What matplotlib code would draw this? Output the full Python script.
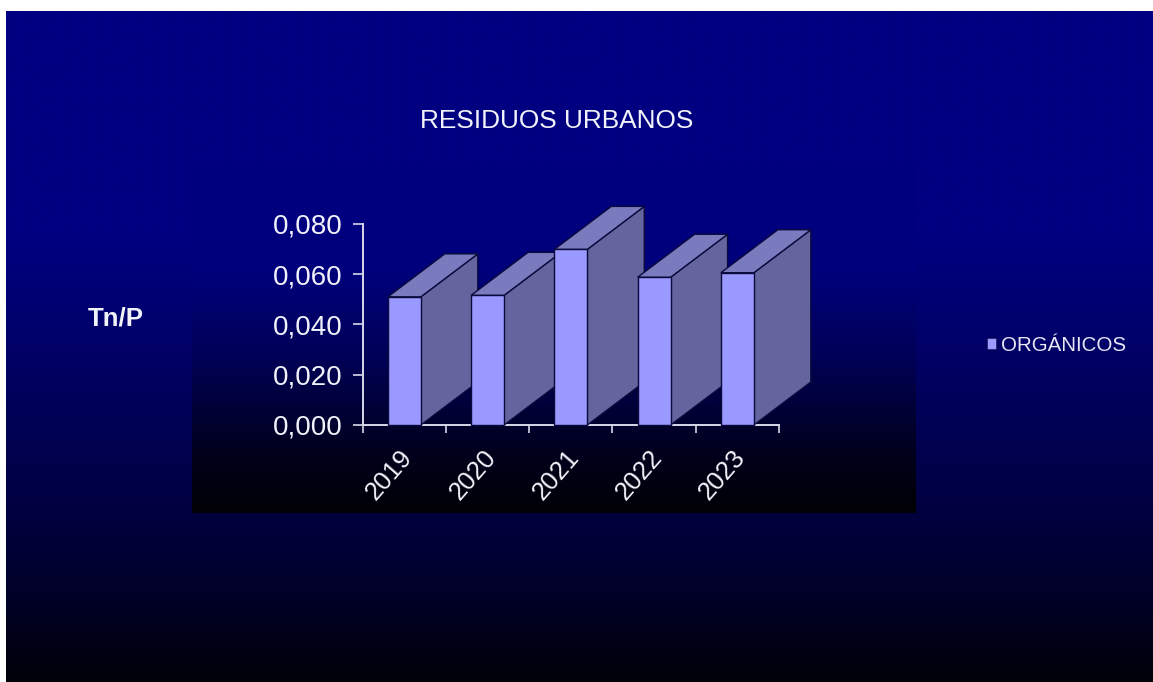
import matplotlib
matplotlib.use("Agg")
import matplotlib.pyplot as plt
import numpy as np
from matplotlib.patches import Polygon, Patch
from matplotlib.transforms import ScaledTranslation

plt.rcParams['font.family'] = ['Liberation Sans', 'DejaVu Sans']

years = ["2019", "2020", "2021", "2022", "2023"]
organicos = [0.051, 0.0516, 0.0699, 0.0588, 0.0606]
y_ticks = [0.0, 0.02, 0.04, 0.06, 0.08]
y_labels = ["0,000", "0,020", "0,040", "0,060", "0,080"]

W, H = 1153, 682
FRONT = "#9999ff"
SIDE = "#64649f"
TOP = "#7a7abf"
EDGE = "#0a0a3c"
TXT = "#f2f2fa"

fig = plt.figure(figsize=(W / 100, H / 100), dpi=100, facecolor="white")


def px_axes(x0, y0, x1, y1):
    # rectangle given in picture pixels, y going down
    return fig.add_axes([x0 / W, 1 - y1 / H, (x1 - x0) / W, (y1 - y0) / H])


def gradient(ax, stops_pos, stops_blue):
    t = np.linspace(0, 1, 400)
    blue = np.interp(t, stops_pos, stops_blue) / 255
    img = np.zeros((400, 1, 3))
    img[:, 0, 2] = blue
    ax.imshow(img, aspect="auto", interpolation="bilinear")
    ax.axis("off")


bg = px_axes(6, 11, W, H)
gradient(bg, [0, 0.34, 0.52, 0.76, 0.88, 1], [128, 128, 100, 62, 38, 8])

panel = px_axes(192, 165, 916, 513)
gradient(panel, [0, 0.30, 0.56, 0.82, 1], [128, 125, 85, 30, 4])

ax = px_axes(362.7, 224, 779, 425)
ax.patch.set_alpha(0)
ax.set_xlim(0, 5)
ax.set_ylim(0, 0.08)

# depth of the fake 3d bars, in data units
bar_w = 0.396
dx = 57 / 83.3
dy = 43 / 201 * 0.08

for i, v in enumerate(organicos):
    left = i + 0.5 - bar_w / 2
    right = left + bar_w
    ax.add_patch(Polygon([(right, 0), (right + dx, dy), (right + dx, v + dy), (right, v)],
                         fc=SIDE, ec=EDGE, lw=1, clip_on=False, zorder=3 + i))
    ax.add_patch(Polygon([(left, v), (left + dx, v + dy), (right + dx, v + dy), (right, v)],
                         fc=TOP, ec=EDGE, lw=1, clip_on=False, zorder=3 + i))
    ax.bar(i + 0.5, v, width=bar_w, color=FRONT, edgecolor=EDGE, linewidth=1, clip_on=False, zorder=3 + i)

for s in ["top", "right"]:
    ax.spines[s].set_visible(False)
for s in ["left", "bottom"]:
    ax.spines[s].set_color("#d8d8ea")
    ax.spines[s].set_linewidth(1.4)

ax.set_yticks(y_ticks)
ax.set_yticklabels(y_labels, fontsize=20, color=TXT)
ax.tick_params(axis="y", length=7, width=1.2, color="#d8d8ea", pad=7.5)
ax.set_xticks(range(6))
ax.set_xticklabels([])
ax.tick_params(axis="x", which="major", length=6, width=1.2, color="#d8d8ea")
ax.set_xticks(np.arange(5) + 0.5, minor=True)
ax.set_xticklabels(years, minor=True, fontsize=18.5, color=TXT, rotation=49, ha="right",
                   va="top", rotation_mode="anchor")
ax.tick_params(axis="x", which="minor", length=0, pad=13)

# nudge the year labels left, they do not sit under the tick centres
shift = ScaledTranslation(-5 / 100, -2 / 100, fig.dpi_scale_trans)
for lab in ax.get_xticklabels(minor=True):
    lab.set_transform(lab.get_transform() + shift)

fig.text(557 / W, 1 - 121 / H, "RESIDUOS URBANOS", fontsize=18.9, color=TXT, ha="center", va="center")
fig.text(116 / W, 1 - 318 / H, "Tn/P", fontsize=18.6, fontweight="bold", color=TXT, ha="center", va="center")

leg = fig.legend(handles=[Patch(fc=FRONT, ec="#1a1a50", lw=0.5, label="ORGÁNICOS")],
                 loc="center left", bbox_to_anchor=(987 / W, 1 - 345.5 / H), frameon=False,
                 fontsize=14.8, labelcolor="#e6e6f5", handlelength=0.42, handleheight=0.42,
                 handletextpad=0.25, borderpad=0, borderaxespad=0)

fig.savefig("out.png", dpi=100, facecolor="white")
